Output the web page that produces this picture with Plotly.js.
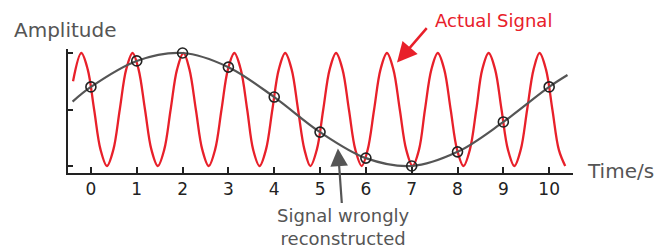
<!DOCTYPE html>
<html>
<head>
<meta charset="utf-8">
<script src="https://cdn.plot.ly/plotly-3.0.1.min.js"></script>
<style>html,body{margin:0;padding:0;background:#fff;}#chart{width:654px;height:248px;}</style>
</head>
<body>
<div id="chart"></div>
<script>
// Actual (red) signal: points (peaks, half-heights, zero crossings, troughs)
const actualTime = [-0.39, -0.21, -0.07, 0.07, 0.21, 0.35, 0.49, 0.63, 0.77, 0.91, 1.04, 1.18, 1.32, 1.46, 1.60, 1.74, 1.88,
  2.02, 2.15, 2.29, 2.43, 2.57, 2.71, 2.85, 2.99, 3.13, 3.27, 3.41, 3.54, 3.68, 3.82, 3.96, 4.10,
  4.24, 4.38, 4.52, 4.66, 4.79, 4.93, 5.07, 5.21, 5.35, 5.49, 5.63, 5.77, 5.91, 6.04, 6.18, 6.32,
  6.46, 6.60, 6.74, 6.88, 7.02, 7.16, 7.29, 7.43, 7.57, 7.71, 7.85, 7.99, 8.13, 8.27, 8.41, 8.54,
  8.68, 8.82, 8.96, 9.10, 9.24, 9.38, 9.52, 9.66, 9.79, 9.93, 10.07, 10.21, 10.35];
const actualAmp = [0.50, 1, 0.71, 0, -0.71, -1, -0.71, 0, 0.71, 1, 0.71, 0, -0.71, -1, -0.71, 0, 0.71,
  1, 0.71, 0, -0.71, -1, -0.71, 0, 0.71, 1, 0.71, 0, -0.71, -1, -0.71, 0, 0.71,
  1, 0.71, 0, -0.71, -1, -0.71, 0, 0.71, 1, 0.71, 0, -0.71, -1, -0.71, 0, 0.71,
  1, 0.71, 0, -0.71, -1, -0.71, 0, 0.71, 1, 0.71, 0, -0.71, -1, -0.71, 0, 0.71,
  1, 0.71, 0, -0.71, -1, -0.71, 0, 0.71, 1, 0.71, 0, -0.71, -1];

// Wrongly reconstructed (gray) signal
const reconTime = [-0.4, 0, 1, 2, 3, 4, 5, 6, 7, 8, 9, 10, 10.4];
const reconAmp  = [0.14, 0.40, 0.86, 1.0, 0.75, 0.22, -0.40, -0.86, -1.0, -0.75, -0.22, 0.40, 0.61];

// Sample points
const sampleTime = [0, 1, 2, 3, 4, 5, 6, 7, 8, 9, 10];
const sampleAmp  = [0.40, 0.86, 1.0, 0.75, 0.22, -0.40, -0.86, -1.0, -0.75, -0.22, 0.40];

const xTicks = [0, 1, 2, 3, 4, 5, 6, 7, 8, 9, 10];
const xTickLabels = ['0', '1', '2', '3', '4', '5', '6', '7', '8', '9', '10'];
const yTicks = [-1, 0, 1];

const RED = '#e8202a';
const GRAY = '#555555';
const FONT = 'DejaVu Sans, sans-serif';

const traces = [
  {x: actualTime, y: actualAmp, mode: 'lines', line: {color: RED, width: 2.3, shape: 'spline', smoothing: 1}, hoverinfo: 'skip'},
  {x: reconTime, y: reconAmp, mode: 'lines', line: {color: GRAY, width: 2.2, shape: 'spline', smoothing: 1}, hoverinfo: 'skip'},
  {x: sampleTime, y: sampleAmp, mode: 'markers', cliponaxis: false, marker: {symbol: 'circle-open', size: 10, color: '#222', line: {width: 1.6, color: '#222'}}, hoverinfo: 'skip'}
];

const layout = {
  width: 654, height: 248,
  margin: {l: 68, r: 81, t: 49, b: 75},
  paper_bgcolor: '#fff', plot_bgcolor: '#fff',
  showlegend: false,
  font: {family: FONT, color: '#222'},
  xaxis: {
    range: [-0.5, 10.52], tickvals: xTicks, ticktext: xTickLabels,
    ticks: 'inside', ticklen: 6, tickwidth: 2, tickcolor: '#222',
    showline: true, linewidth: 2, linecolor: '#222', showgrid: false, zeroline: false,
    tickfont: {family: FONT, size: 17, color: '#222'}, fixedrange: true
  },
  yaxis: {
    range: [-1.124, 1.071], tickvals: yTicks, showticklabels: false,
    ticks: 'inside', ticklen: 5, tickwidth: 2, tickcolor: '#222',
    showline: true, linewidth: 2, linecolor: '#222', showgrid: false, zeroline: false, fixedrange: true
  },
  annotations: [
    {text: 'Amplitude', xref: 'paper', yref: 'paper', x: -0.111, y: 1.153, xanchor: 'left', yanchor: 'middle', showarrow: false, font: {family: FONT, size: 20, color: GRAY}},
    {text: 'Time/s', xref: 'paper', yref: 'paper', x: 1.024, y: 0.016, xanchor: 'left', yanchor: 'middle', showarrow: false, font: {family: FONT, size: 20, color: GRAY}},
    {text: 'Actual Signal', xref: 'paper', yref: 'paper', x: 0.8416, y: 1.226, xanchor: 'center', yanchor: 'middle', showarrow: false, font: {family: FONT, size: 18, color: RED}},
    {text: '', x: 6.68, y: 0.83, xref: 'x', yref: 'y', showarrow: true, ax: 31, ay: -36, arrowhead: 2, arrowsize: 1.6, arrowwidth: 2.5, arrowcolor: RED},
    {text: 'Signal wrongly<br>reconstructed', xref: 'paper', yref: 'paper', x: 0.5455, y: -0.438, xanchor: 'center', yanchor: 'middle', align: 'center', showarrow: false, font: {family: FONT, size: 18, color: GRAY}},
    {text: '', x: 5.39, y: -0.69, xref: 'x', yref: 'y', showarrow: true, ax: 4, ay: 56, arrowhead: 2, arrowsize: 1.6, arrowwidth: 2.2, arrowcolor: GRAY}
  ]
};

Plotly.newPlot('chart', traces, layout, {displayModeBar: false, staticPlot: true});
</script>
</body>
</html>
